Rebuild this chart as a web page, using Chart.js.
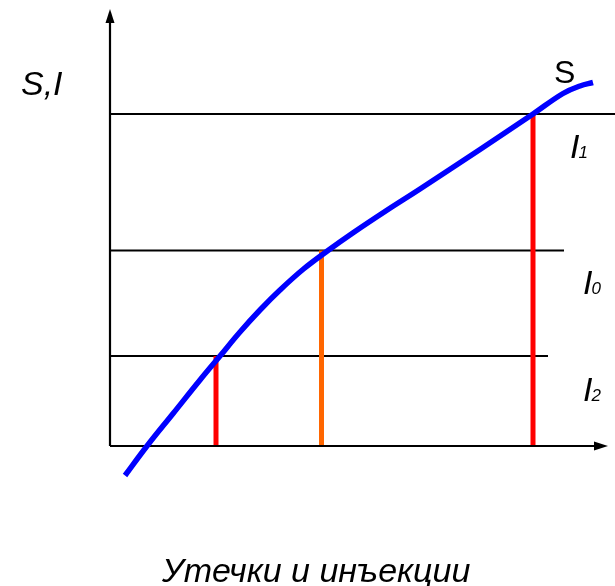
<!DOCTYPE html>
<html>
<head>
<meta charset="utf-8">
<script src="https://cdn.jsdelivr.net/npm/chart.js@4/dist/chart.umd.min.js"></script>
<style>
  html, body { margin: 0; padding: 0; background: #fff; }
  #wrap { position: relative; width: 615px; height: 586px; }
</style>
</head>
<body>
<div id="wrap"><canvas id="c"></canvas></div>
<script>
// ---- data (arbitrary units) ----
const curveX = [0.3, 0.74, 1.27, 1.8, 2.2, 2.6, 3.0, 3.4, 3.87, 4.36, 4.87, 5.53, 6.2, 7.4, 8.46, 9.06, 9.4, 9.66];
const curveY = [-0.59, 0, 0.66, 1.32, 1.8, 2.28, 2.72, 3.12, 3.54, 3.91, 4.27, 4.71, 5.14, 5.93, 6.64, 7.05, 7.2, 7.27];

const levelNames  = ['I1', 'I0', 'I2'];
const levelValues = [6.64, 3.91, 1.8];
const levelEnds   = [10.1, 9.08, 8.76];

const barX     = [2.12, 4.23, 8.46];
const barTop   = [1.8, 3.91, 6.64];
const barColor = ['#ff0000', '#ff6600', '#ff0000'];

const axisYTop   = 8.6;
const axisXRight = 9.82;

const yLabel = 'S,I';
const curveLabel = 'S';
const xTitle = 'Утечки и инъекции';

// ---- arrowheads as point-style images ----
function arrow(dir) {
  const c = document.createElement('canvas');
  const g = c.getContext('2d');
  if (dir === 'up') {
    c.width = 10; c.height = 14;
    g.beginPath(); g.moveTo(5, 0); g.lineTo(0.5, 14); g.lineTo(9.5, 14); g.closePath();
  } else {
    c.width = 14; c.height = 10;
    g.beginPath(); g.moveTo(14, 5); g.lineTo(0, 0.5); g.lineTo(0, 9.5); g.closePath();
  }
  g.fillStyle = '#000'; g.fill();
  return c;
}
const upArrow = arrow('up');
const rightArrow = arrow('right');

const datasets = [];

// curve (on top)
datasets.push({
  data: curveX.map((x, i) => ({ x, y: curveY[i] })),
  borderColor: '#0000ff', borderWidth: 5.5, pointRadius: 0,
  tension: 0.4, borderCapStyle: 'butt', order: 0
});

// vertical bars
barX.forEach((x, i) => {
  datasets.push({
    data: [{ x, y: 0 }, { x, y: barTop[i] }],
    borderColor: barColor[i], borderWidth: 5, pointRadius: 0,
    borderCapStyle: 'butt', order: 2
  });
});

// horizontal level lines
levelValues.forEach((v, i) => {
  datasets.push({
    data: [{ x: 0, y: v }, { x: levelEnds[i], y: v }],
    borderColor: '#000', borderWidth: 2, pointRadius: 0, order: 3
  });
});

// axes with arrowheads
datasets.push({
  data: [{ x: 0, y: 0 }, { x: 0, y: axisYTop }],
  borderColor: '#000', borderWidth: 2.2, order: 1,
  pointRadius: [0, 6], pointStyle: upArrow
});
datasets.push({
  data: [{ x: 0, y: 0 }, { x: axisXRight, y: 0 }],
  borderColor: '#000', borderWidth: 2.2, order: 1,
  pointRadius: [0, 6], pointStyle: rightArrow
});

const FONT = '"Liberation Sans", Arial, sans-serif';

const labelsPlugin = {
  id: 'labels',
  afterDraw(chart) {
    const ctx = chart.ctx;
    ctx.save();
    ctx.fillStyle = '#000';
    ctx.textBaseline = 'alphabetic';
    ctx.textAlign = 'left';

    ctx.font = 'italic 34px ' + FONT;
    ctx.fillText(yLabel, 21, 95);

    ctx.font = '32px ' + FONT;
    ctx.fillText(curveLabel, 554, 83);

    const subPos = [[570, 158], [583, 294], [583, 401]];
    levelNames.forEach((n, i) => {
      const [px, py] = subPos[i];
      ctx.font = 'italic 34px ' + FONT;
      ctx.fillText(n[0], px, py);
      const w = ctx.measureText(n[0]).width;
      ctx.font = 'italic 17px ' + FONT;
      ctx.fillText(n.slice(1), px + w - 1, py);
    });

    ctx.font = 'italic 34px ' + FONT;
    ctx.fillText(xTitle, 162, 582);
    ctx.restore();
  }
};

new Chart(document.getElementById('c'), {
  type: 'scatter',
  data: { datasets },
  options: {
    responsive: true,
    maintainAspectRatio: false,
    animation: false,
    events: [],
    layout: { padding: 0, autoPadding: false },
    plugins: { legend: { display: false }, tooltip: { enabled: false }, title: { display: false } },
    datasets: { scatter: { showLine: true, clip: false } },
    scales: {
      x: { type: 'linear', min: -2.2, max: 10.1, display: false },
      y: { type: 'linear', min: -2.8, max: 8.92, display: false }
    }
  },
  plugins: [labelsPlugin]
});
</script>
</body>
</html>
